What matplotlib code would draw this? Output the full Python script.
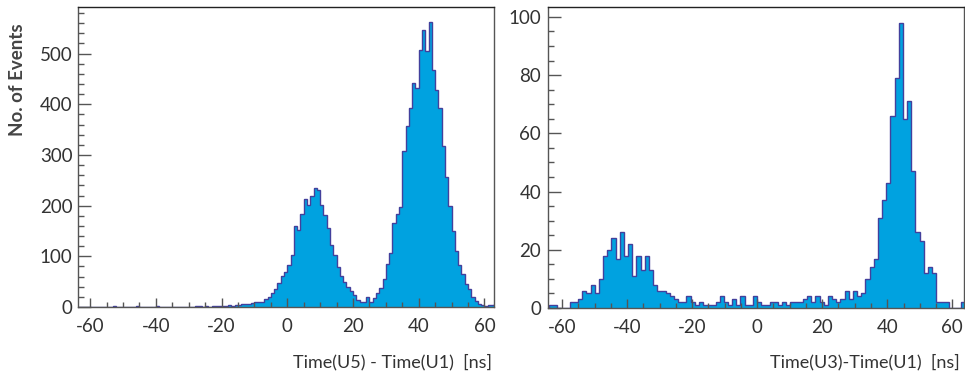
import numpy as np
import matplotlib
matplotlib.use("Agg")
import matplotlib.pyplot as plt
from matplotlib.ticker import MultipleLocator

plt.rcParams['font.family'] = ['Lato', 'DejaVu Sans']

# ---------------- data ----------------
# Left panel: Time(U5) - Time(U1), 1 ns bins from -64 to 64
left_edges_range = (-64, 64)
left_counts = [
    0, 0, 0, 0, 0, 0, 0, 0, 0, 0, 0, 1, 0, 0, 0, 0,          # -64..-49
    0, 0, 1, 0, 0, 0, 0, 0, 1, 0, 0, 0, 0, 0, 0, 0,          # -48..-33
    0, 0, 0, 0, 1, 2, 0, 1, 0, 2, 1, 2, 1, 2, 3, 2,          # -32..-17
    3, 4, 5, 5, 5, 8, 9, 10, 10, 15, 20, 28, 36, 48, 62, 70,  # -16..-1
    82, 103, 159, 151, 184, 214, 201, 220, 234, 230, 201, 181, 155, 122, 102, 79,  # 0..15
    62, 49, 39, 31, 23, 13, 9, 10, 20, 10, 18, 28, 38, 56, 84, 107,               # 16..31
    165, 183, 198, 307, 358, 392, 443, 432, 508, 547, 505, 562, 468, 429, 392, 317,  # 32..47
    257, 200, 150, 110, 82, 66, 45, 35, 20, 12, 5, 3, 2, 3, 4, 5,                 # 48..63
]

# Right panel: Time(U3) - Time(U1), 100 bins from -64 to 64
right_edges_range = (-64, 64)
right_counts = [
    1, 1, 0, 0, 0, 2, 2, 3, 6, 5, 8, 5, 10, 18, 20, 24,
    17, 26, 18, 22, 11, 18, 13, 18, 13, 8, 6, 6, 5, 4, 3, 2,
    2, 4, 2, 1, 2, 1, 1, 1, 2, 4, 2, 1, 3, 1, 4, 1,
    1, 4, 2, 1, 1, 2, 2, 1, 2, 1, 2, 2, 2, 3, 4, 2,
    4, 2, 1, 4, 3, 2, 3, 6, 3, 6, 4, 5, 10, 14, 17, 31,
    37, 43, 66, 79, 98, 65, 71, 47, 26, 23, 12, 14, 12, 2, 2, 2,
    0, 0, 0, 2,
]

x_ticks = [-60, -40, -20, 0, 20, 40, 60]
left_yticks = [0, 100, 200, 300, 400, 500]
right_yticks = [0, 20, 40, 60, 80, 100]
left_xlabel = "Time(U5) - Time(U1)  [ns]"
right_xlabel = "Time(U3)-Time(U1)  [ns]"
ylabel = "No. of Events"

# ---------------- style ----------------
FILL = "#00A2E0"
EDGE = "#43409C"
SPINE = "#555555"
TXT = "#333333"

W, H = 965, 380
fig = plt.figure(figsize=(W / 100, H / 100), dpi=100)

def px_axes(x0, y0, x1, y1):
    return fig.add_axes([x0 / W, 1 - y1 / H, (x1 - x0) / W, (y1 - y0) / H])

axL = px_axes(78, 7, 494, 307)
axR = px_axes(548, 7, 964, 308)

def draw(ax, counts, rng, xlim, ylim, yticks, yminor, ypad):
    edges = np.linspace(rng[0], rng[1], len(counts) + 1)
    ax.stairs(counts, edges, fill=True, color=FILL, linewidth=0)
    ax.stairs(counts, edges, color=EDGE, linewidth=1.0)
    ax.set_xlim(*xlim)
    ax.set_ylim(*ylim)
    ax.set_xticks(x_ticks)
    ax.set_xticklabels([str(t) for t in x_ticks])
    ax.xaxis.set_minor_locator(MultipleLocator(5))
    ax.set_yticks(yticks)
    ax.yaxis.set_minor_locator(MultipleLocator(yminor))
    ax.tick_params(axis='x', which='major', direction='in', length=6.5, width=1,
                   color=SPINE, labelsize=13.5, labelcolor=TXT, pad=8)
    ax.tick_params(axis='x', which='minor', direction='in', length=3.5, width=1, color=SPINE)
    ax.tick_params(axis='y', which='major', direction='in', length=9, width=1,
                   color=SPINE, labelsize=13.5, labelcolor=TXT, pad=ypad)
    ax.tick_params(axis='y', which='minor', direction='in', length=4.5, width=1, color=SPINE)
    for s in ax.spines.values():
        s.set_color(SPINE)
        s.set_linewidth(1.0)
    ax.spines['top'].set_color('#222222')

draw(axL, left_counts, left_edges_range, (-63.7, 62.9), (0, 592), left_yticks, 20, 4)
draw(axR, right_counts, right_edges_range, (-64.3, 63.6), (0, 103.4), right_yticks, 5, 5)

fig.text(492 / W, 1 - 362 / H, left_xlabel, ha='right', va='center', fontsize=13, color=TXT)
fig.text(960 / W, 1 - 362 / H, right_xlabel, ha='right', va='center', fontsize=13, color=TXT)
fig.text(18 / W, 1 - 80 / H, ylabel, ha='center', va='center', rotation=90,
         fontsize=13.5, fontweight='bold', color='#444444')

fig.savefig("out.png", dpi=100)
